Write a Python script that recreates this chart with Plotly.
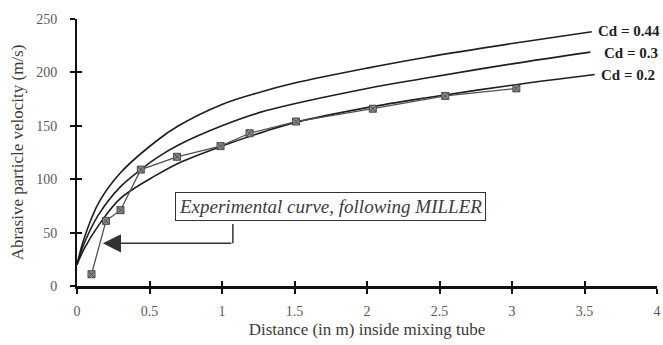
import plotly.graph_objects as go

# ---- data ----
cd044_x = [0, 0.05, 0.15, 0.3, 0.55, 0.7, 1.0, 1.25, 1.5, 2.0, 2.4, 3.0, 3.55]
cd044_y = [20, 45, 78, 106, 136, 150, 170, 181, 190, 204, 214, 227, 238]

cd03_x = [0, 0.05, 0.15, 0.3, 0.44, 0.55, 0.7, 1.0, 1.3, 2.0, 2.4, 3.0, 3.54]
cd03_y = [20, 40, 67, 93, 109, 120, 132, 150, 164, 185, 194.5, 208, 219]

cd02_x = [0, 0.05, 0.15, 0.3, 0.55, 0.7, 1.0, 1.3, 1.5, 2.0, 2.4, 3.0, 3.57]
cd02_y = [20, 35, 57, 82, 104, 115, 131, 145, 153, 167, 176, 188, 198]

exp_x = [0.1, 0.2, 0.3, 0.44, 0.69, 0.99, 1.19, 1.51, 2.04, 2.54, 3.03]
exp_y = [11, 61, 71, 109, 121, 131, 143, 154, 166, 178, 185]

x_ticks = [0, 0.5, 1, 1.5, 2, 2.5, 3, 3.5, 4]
x_tick_text = ["0", "0.5", "1", "1.5", "2", "2.5", "3", "3.5", "4"]
y_ticks = [0, 50, 100, 150, 200, 250]

curve_labels = ["Cd = 0.44", "Cd = 0.3", "Cd = 0.2"]

SERIF = "Liberation Serif, Times New Roman, serif"

fig = go.Figure()
curve_style = dict(color="#1e1e1e", width=1.6, shape="spline", smoothing=1.0)
for cx, cy, name in [(cd044_x, cd044_y, curve_labels[0]),
                     (cd03_x, cd03_y, curve_labels[1]),
                     (cd02_x, cd02_y, curve_labels[2])]:
    fig.add_trace(go.Scatter(x=cx, y=cy, mode="lines", name=name,
                             line=curve_style, showlegend=False, hoverinfo="skip"))

fig.add_trace(go.Scatter(
    x=exp_x, y=exp_y, mode="lines+markers", name="Experimental",
    line=dict(color="#505050", width=1.3),
    marker=dict(symbol="square-x", size=7, color="#8c8c8c",
                line=dict(color="#4a4a4a", width=1)),
    showlegend=False, hoverinfo="skip"))

# invisible trace to create overlay axes for inward tick halves
fig.add_trace(go.Scatter(x=[None], y=[None], xaxis="x2", yaxis="y2",
                         showlegend=False, hoverinfo="skip"))

axis_common = dict(showgrid=False, zeroline=False, ticks="outside", ticklen=5,
                   tickwidth=2, tickcolor="#111",
                   tickfont=dict(family=SERIF, size=14, color="#5a5a5a"))

fig.update_layout(
    width=663, height=345,
    margin=dict(l=77, r=2, t=19, b=59),
    paper_bgcolor="white", plot_bgcolor="white",
    xaxis=dict(range=[0, 4], tickvals=x_ticks, ticktext=x_tick_text,
               showline=True, linecolor="#111", linewidth=2.5,
               ticklabelstandoff=5, ticklabeloverflow="allow",
               title=dict(text="Distance (in m) inside mixing tube",
                          font=dict(family=SERIF, size=17, color="#3a3a3a"),
                          standoff=6),
               **axis_common),
    yaxis=dict(range=[0, 250], tickvals=y_ticks,
               showline=True, linecolor="#111", linewidth=2,
               ticklabelstandoff=10,
               title=dict(text="Abrasive particle velocity (m/s)",
                          font=dict(family=SERIF, size=17, color="#3a3a3a"),
                          standoff=8),
               **axis_common),
    xaxis2=dict(matches="x", overlaying="x", anchor="y2", showgrid=False,
                zeroline=False, showline=False, showticklabels=False,
                tickvals=x_ticks, ticks="inside", ticklen=5, tickwidth=2,
                tickcolor="#111"),
    yaxis2=dict(matches="y", overlaying="y", anchor="x2", showgrid=False,
                zeroline=False, showline=False, showticklabels=False,
                tickvals=y_ticks, ticks="inside", ticklen=5, tickwidth=2,
                tickcolor="#111"),
)

# curve labels
label_pos = [(3.58, 239), (3.62, 218), (3.60, 198)]
for (lx, ly), txt in zip(label_pos, curve_labels):
    fig.add_annotation(x=lx, y=ly, xref="x", yref="y", text="<b>" + txt + "</b>",
                       showarrow=False, xanchor="left", yanchor="middle",
                       font=dict(family=SERIF, size=15, color="#1e1e1e"))

# experimental-curve callout box
fig.add_annotation(x=1.75, y=74, xref="x", yref="y",
                   text="<i>Experimental curve, following MILLER</i>",
                   showarrow=False, xanchor="center", yanchor="middle",
                   font=dict(family=SERIF, size=19, color="#3c3c3c"),
                   bordercolor="#333", borderwidth=1, borderpad=3, bgcolor="white")

# connector from box down, then arrow to the left
fig.add_shape(type="line", xref="x", yref="y", x0=1.075, y0=58, x1=1.075, y1=40,
              line=dict(color="#333", width=1.5))
fig.add_annotation(x=0.178, y=40, ax=1.075, ay=40, xref="x", yref="y",
                   axref="x", ayref="y", text="", showarrow=True,
                   arrowhead=2, arrowsize=2.6, arrowwidth=1.4, arrowcolor="#333")

fig.write_html("out.html")
